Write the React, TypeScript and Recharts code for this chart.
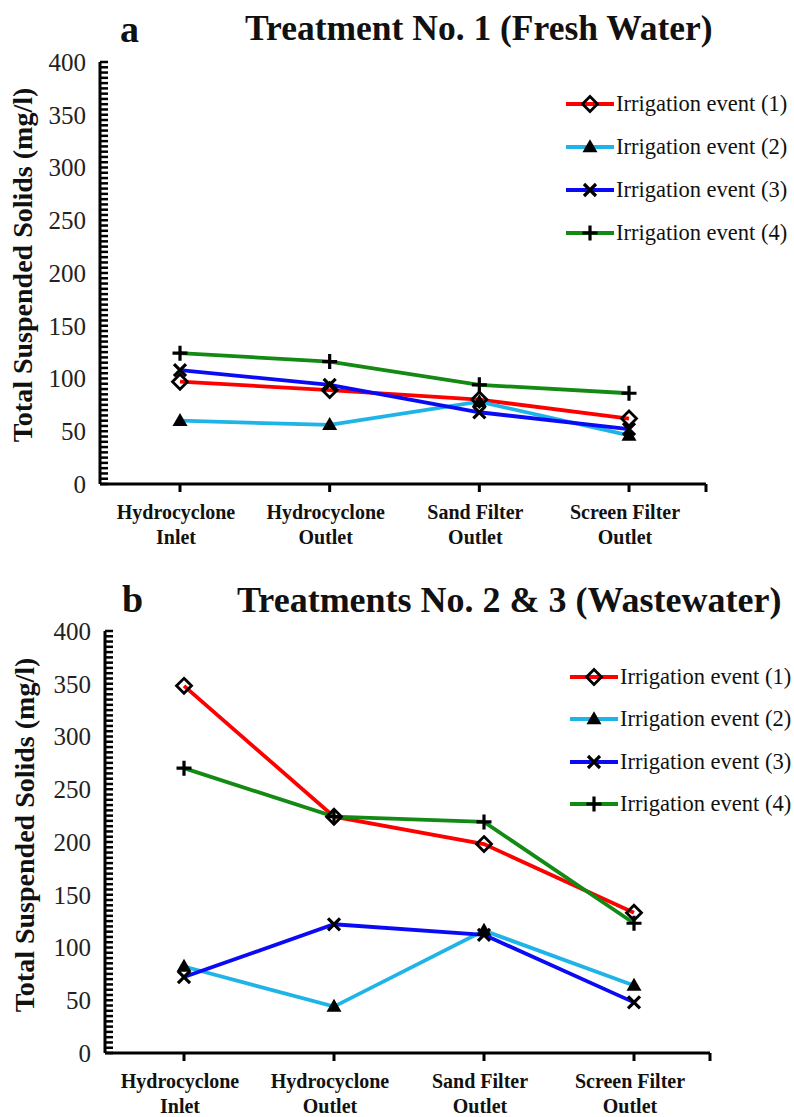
import React from "react";
import { LineChart, Line, XAxis, YAxis, Legend } from "recharts";

// x categories (two text lines each)
const CATEGORIES = [
  "Hydrocyclone Inlet",
  "Hydrocyclone Outlet",
  "Sand Filter Outlet",
  "Screen Filter Outlet",
];
const CATEGORY_LINES = [
  ["Hydrocyclone", "Inlet"],
  ["Hydrocyclone", "Outlet"],
  ["Sand Filter", "Outlet"],
  ["Screen Filter", "Outlet"],
];

const Y_MAJOR_TICKS = [0, 50, 100, 150, 200, 250, 300, 350, 400];
const Y_MINOR_PER_MAJOR = 10;

const SERIES_NAMES = [
  "Irrigation event (1)",
  "Irrigation event (2)",
  "Irrigation event (3)",
  "Irrigation event (4)",
];

// a - Treatment No. 1 (fresh water), mg/l
const FRESH_EVENT_1 = [97, 89, 80, 62];
const FRESH_EVENT_2 = [60, 56, 78, 46];
const FRESH_EVENT_3 = [108, 94, 68, 52];
const FRESH_EVENT_4 = [124, 116, 94, 86];

// b - Treatments No. 2 & 3 (wastewater), mg/l
const WASTE_EVENT_1 = [348, 224, 198, 133];
const WASTE_EVENT_2 = [82, 44, 116, 64];
const WASTE_EVENT_3 = [72, 122, 112, 48];
const WASTE_EVENT_4 = [270, 224, 219, 123];

const COLORS = ["#FF0000", "#1FB4E8", "#0A0AF5", "#138A13"];
const SHAPES = ["diamond", "triangle", "cross", "plus"] as const;
const KEYS = ["e1", "e2", "e3", "e4"];

const FONT = '"Liberation Serif", "Times New Roman", serif';

// minor ticks on the y axis (every 5 mg/l)
const Y_TICKS: number[] = [];
Y_MAJOR_TICKS.forEach((v, i) => {
  if (i === Y_MAJOR_TICKS.length - 1) {
    Y_TICKS.push(v);
    return;
  }
  const step = (Y_MAJOR_TICKS[i + 1] - v) / Y_MINOR_PER_MAJOR;
  for (let k = 0; k < Y_MINOR_PER_MAJOR; k++) Y_TICKS.push(v + k * step);
});

function buildRows(series: number[][]) {
  return CATEGORIES.map((cat, i) => {
    const row: Record<string, any> = { cat };
    series.forEach((s, j) => (row[KEYS[j]] = s[i]));
    return row;
  });
}

const FRESH_DATA = buildRows([FRESH_EVENT_1, FRESH_EVENT_2, FRESH_EVENT_3, FRESH_EVENT_4]);
const WASTE_DATA = buildRows([WASTE_EVENT_1, WASTE_EVENT_2, WASTE_EVENT_3, WASTE_EVENT_4]);

function Marker({ shape, cx, cy }: { shape: string; cx: number; cy: number }) {
  if (shape === "diamond") {
    const r = 7.5;
    return (
      <path
        d={`M${cx},${cy - r}L${cx + r},${cy}L${cx},${cy + r}L${cx - r},${cy}Z`}
        fill="none"
        stroke="#000"
        strokeWidth={2.8}
      />
    );
  }
  if (shape === "triangle") {
    const h = 13;
    const w = 7.5;
    return (
      <path
        d={`M${cx},${cy - h * 0.6}L${cx + w},${cy + h * 0.4}L${cx - w},${cy + h * 0.4}Z`}
        fill="#000"
      />
    );
  }
  if (shape === "cross") {
    const r = 6;
    return (
      <path
        d={`M${cx - r},${cy - r}L${cx + r},${cy + r}M${cx - r},${cy + r}L${cx + r},${cy - r}`}
        stroke="#000"
        strokeWidth={3.2}
      />
    );
  }
  const r = 7.5;
  return (
    <path
      d={`M${cx - r},${cy}L${cx + r},${cy}M${cx},${cy - r}L${cx},${cy + r}`}
      stroke="#000"
      strokeWidth={3.2}
    />
  );
}

function dotFor(shape: string) {
  return (props: any) => (
    <Marker key={`${shape}-${props.index}`} shape={shape} cx={props.cx} cy={props.cy} />
  );
}

// y tick: x is the axis position (tickSize 0, tickMargin 0)
function YTick(props: any) {
  const { x, y, payload } = props;
  const major = Y_MAJOR_TICKS.includes(payload.value);
  return (
    <g>
      <rect x={x} y={y - 1.25} width={8} height={2.5} fill="#000" />
      {major && (
        <text
          x={x - 14}
          y={y}
          dy="0.35em"
          textAnchor="end"
          fontSize={25}
          fontFamily={FONT}
          fill="#222"
        >
          {payload.value}
        </text>
      )}
    </g>
  );
}

function makeXTick(rightPad: number) {
  return (props: any) => {
    const { x, y, index } = props;
    const lines = CATEGORY_LINES[index] || [];
    return (
      <g>
        <rect x={x - 1.5} y={y} width={3} height={8} fill="#000" />
        {index === CATEGORIES.length - 1 && (
          <rect x={x + rightPad - 1.5} y={y} width={3} height={8} fill="#000" />
        )}
        {lines.map((t, i) => (
          <text
            key={i}
            x={x - 4}
            y={y + 28 + i * 25}
            dy="0.35em"
            textAnchor="middle"
            fontSize={20}
            fontWeight="bold"
            fontFamily={FONT}
            fill="#111"
          >
            {t}
          </text>
        ))}
      </g>
    );
  };
}

function LegendBox({ rowHeight }: { rowHeight: number }) {
  return (
    <div>
      {SERIES_NAMES.map((name, i) => (
        <div
          key={name}
          style={{ display: "flex", alignItems: "center", height: rowHeight }}
        >
          <svg width={50} height={20} style={{ display: "block" }}>
            <line x1={0} x2={48} y1={10} y2={10} stroke={COLORS[i]} strokeWidth={4} />
            <Marker shape={SHAPES[i]} cx={24} cy={10} />
          </svg>
          <span
            style={{
              fontFamily: FONT,
              fontSize: 22.5,
              color: "#111",
              whiteSpace: "nowrap",
            }}
          >
            {name}
          </span>
        </div>
      ))}
    </div>
  );
}

interface PanelProps {
  data: Record<string, any>[];
  height: number;
  margin: { top: number; right: number; bottom: number; left: number };
  pad: { left: number; right: number };
  legendPos: { left: number; top: number; rowHeight: number };
}

function Panel({ data, height, margin, pad, legendPos }: PanelProps) {
  return (
    <LineChart width={794} height={height} data={data} margin={margin}>
      {KEYS.map((k, i) => (
        <Line
          key={k}
          dataKey={k}
          name={SERIES_NAMES[i]}
          stroke={COLORS[i]}
          strokeWidth={3.8}
          type="linear"
          dot={dotFor(SHAPES[i])}
          activeDot={false}
          isAnimationActive={false}
        />
      ))}
      <XAxis
        dataKey="cat"
        type="category"
        padding={pad}
        height={60}
        axisLine={{ stroke: "#000", strokeWidth: 3 }}
        tickLine={false}
        tickSize={0}
        tickMargin={0}
        interval={0}
        tick={makeXTick(pad.right)}
      />
      <YAxis
        type="number"
        domain={[0, 400]}
        ticks={Y_TICKS}
        interval={0}
        width={60}
        axisLine={{ stroke: "#000", strokeWidth: 3 }}
        tickLine={false}
        tickSize={0}
        tickMargin={0}
        tick={YTick}
      />
      <Legend
        layout="vertical"
        align="center"
        verticalAlign="middle"
        wrapperStyle={{
          position: "absolute",
          left: legendPos.left,
          top: legendPos.top,
          width: 230,
        }}
        content={() => <LegendBox rowHeight={legendPos.rowHeight} />}
      />
    </LineChart>
  );
}

export default function App() {
  const titleStyle = { fontFamily: FONT, fontWeight: "bold" as const, fill: "#111" };
  return (
    <div style={{ position: "absolute", left: 0, top: 0, width: 794, height: 1117, background: "#fff" }}>
      <div style={{ position: "absolute", left: 0, top: 0 }}>
        <Panel
          data={FRESH_DATA}
          height={560}
          margin={{ top: 62, right: 88, bottom: 16, left: 40 }}
          pad={{ left: 80, right: 77 }}
          legendPos={{ left: 566, top: 82, rowHeight: 43 }}
        />
      </div>
      <div style={{ position: "absolute", left: 0, top: 560 }}>
        <Panel
          data={WASTE_DATA}
          height={557}
          margin={{ top: 71, right: 84, bottom: 4, left: 45 }}
          pad={{ left: 79, right: 76 }}
          legendPos={{ left: 570, top: 96, rowHeight: 42.3 }}
        />
      </div>
      <svg
        width={794}
        height={1117}
        style={{ position: "absolute", left: 0, top: 0, pointerEvents: "none" }}
      >
        <text x={120} y={42} fontSize={38} {...titleStyle}>a</text>
        <text x={245} y={40} fontSize={35.5} {...titleStyle}>
          Treatment No. 1 (Fresh Water)
        </text>
        <text x={122} y={612} fontSize={38} {...titleStyle}>b</text>
        <text x={237} y={612} fontSize={36} {...titleStyle}>
          Treatments No. 2 &amp; 3 (Wastewater)
        </text>
        <text
          x={0}
          y={0}
          fontSize={28}
          textAnchor="middle"
          dominantBaseline="central"
          transform="translate(22,265) rotate(-90)"
          {...titleStyle}
        >
          Total Suspended Solids (mg/l)
        </text>
        <text
          x={0}
          y={0}
          fontSize={28}
          textAnchor="middle"
          dominantBaseline="central"
          transform="translate(24,835) rotate(-90)"
          {...titleStyle}
        >
          Total Suspended Solids (mg/l)
        </text>
      </svg>
    </div>
  );
}
